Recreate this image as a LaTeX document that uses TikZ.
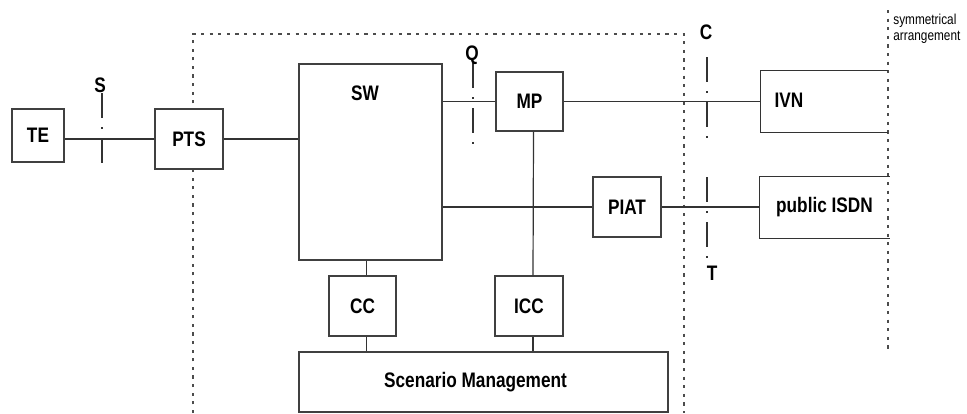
\documentclass[tikz,border=0pt]{standalone}
\usepackage{fontspec}
\setmainfont{Liberation Sans}[FakeStretch=0.82]

\begin{document}
\begin{tikzpicture}[
    x=0.5pt, y=-0.5pt,
    box/.style={draw=black!75, fill=white, line width=0.6pt, inner sep=0pt,
                font=\fontsize{10.5}{12}\selectfont\bfseries},
    openbox/.style={box, draw=none, fill=none},
    wire/.style={draw=black!80, line width=0.6pt},
    iface/.style={draw=black!80, line width=0.6pt, dash pattern=on 12.5pt off 4.5pt on 1pt off 4.5pt},
    frame/.style={draw=black!70, line width=0.7pt, dash pattern=on 1.6pt off 2.7pt},
    lbl/.style={font=\fontsize{10.5}{12}\selectfont\bfseries, inner sep=0pt},
    note/.style={font=\fontsize{7.2}{8}\selectfont, align=left, inner sep=0pt},
]
\useasboundingbox (0,0) rectangle (967,413);
% === Dotted frame of the private network and the symmetry line ===
\draw[frame] (193,413) -- (193,34) -- (684,34) -- (684,413);
\draw[frame] (888,10) -- (888,352);
\node[note, anchor=north west] (symm) at (893,14) {symmetrical\\arrangement};
% === Terminal side ===
\node[box, minimum width=26pt, minimum height=26.5pt] (TE) at (38,135.5) {TE};
\node[box, minimum width=34pt, minimum height=30pt] (PTS) at (189,139) {PTS};
\draw[wire] (PTS.west) -- (PTS.west -| TE.east);
% === Switch and its blocks ===
\node[box, minimum width=71.5pt, minimum height=98pt] (SW) at (370.5,162) {};
\node[lbl] (swtext) at (365,93) {SW};
\node[box, minimum width=33.5pt, minimum height=29.5pt] (MP) at (529.5,101.5) {MP};
\node[box, minimum width=34pt, minimum height=30pt] (PIAT) at (627,207) {PIAT};
\node[box, minimum width=33.5pt, minimum height=30pt] (CC) at (362.5,306) {CC};
\node[box, minimum width=34pt, minimum height=30pt] (ICC) at (529,306) {ICC};
\node[box, minimum width=184.5pt, minimum height=30pt] (SM) at (483.5,382) {Scenario Management\hspace*{8pt}};
\draw[wire] (PTS.east) -- (PTS.east -| SW.west);
\draw[wire] (MP.west) -- (MP.west -| SW.east);
\draw[wire] (PIAT.west) -- (PIAT.west -| SW.east);
\draw[wire] ([xshift=2pt]MP.south) -- ([xshift=2pt]ICC.north);
\draw[wire] ([xshift=2pt]CC.north) -- ([xshift=2pt]CC.north |- SW.south);
\draw[wire] ([xshift=2pt]CC.south) -- ([xshift=2pt]CC.south |- SM.north);
\draw[wire] ([xshift=2pt]ICC.south) -- ([xshift=2pt]ICC.south |- SM.north);
% === Networks, open towards the symmetry line ===
\node[openbox, minimum width=63pt, minimum height=30.5pt] (IVN) at (824,101.5) {};
\node[lbl] (ivntext) at (789,100) {IVN};
\draw[wire] (IVN.north east) -- (IVN.north west) -- (IVN.south west) -- (IVN.south east);
\node[openbox, minimum width=64.5pt, minimum height=30.5pt] (ISDN) at (824.5,207.5) {public ISDN};
\draw[wire] (ISDN.north east) -- (ISDN.north west) -- (ISDN.south west) -- (ISDN.south east);
\draw[wire] (MP.east) -- (MP.east -| IVN.west);
\draw[wire] (PIAT.east) -- (PIAT.east -| ISDN.west);
% === Reference points ===
\draw[iface] (102,93) -- (102,167);
\node[lbl] (S) at (100,85) {S};
\draw[iface] (473,63) -- (473,148);
\node[lbl] (Q) at (472,55) {Q};
\draw[iface] (707,57) -- (707,140);
\node[lbl] (C) at (706,32) {C};
\draw[iface] (707,177) -- (707,261);
\node[lbl] (T) at (712,273) {T};
\end{tikzpicture}
\end{document}
